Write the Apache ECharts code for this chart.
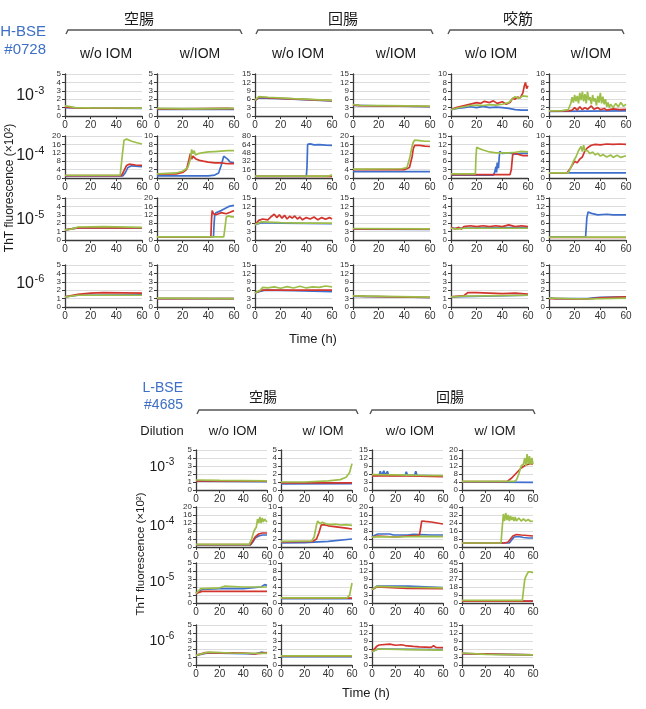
<!DOCTYPE html>
<html>
<head>
<meta charset="utf-8">
<script src="https://cdn.jsdelivr.net/npm/echarts@6.0.0/dist/echarts.min.js"></script>
<style>
html, body { margin: 0; padding: 0; background: #fff; }
#chart { width: 646px; height: 709px; }
</style>
</head>
<body>
<div id="chart"></div>
<script>
// labels
const dilutions = ['-3', '-4', '-5', '-6'];
const hbGroups = ['空腸', '回腸', '咬筋'];
const hbConditions = ['w/o IOM', 'w/IOM', 'w/o IOM', 'w/IOM', 'w/o IOM', 'w/IOM'];
const lbGroups = ['空腸', '回腸'];
const lbConditions = ['w/o IOM', 'w/ IOM', 'w/o IOM', 'w/ IOM'];
const timeRange = [0, 60, 20]; // min, max, interval

// y axis max per panel (ticks = max / 5)
const hbMax = [
    [5, 5, 15, 15, 10, 10],
    [20, 10, 80, 20, 15, 10],
    [5, 20, 15, 15, 5, 15],
    [5, 5, 15, 15, 5, 5]
];
const lbMax = [
    [5, 5, 15, 20],
    [20, 10, 20, 40],
    [5, 10, 15, 45],
    [5, 5, 15, 15]
];

// H-BSE #0728 : each panel = [blue, red, green], points = [time, value]
const hb_3_1 = [
    [[0, 1.0], [10, 0.95], [60, 0.9]],
    [[0, 1.05], [10, 0.95], [60, 0.92]],
    [[0, 1.2], [3, 1.15], [8, 1.0], [20, 0.97], [40, 0.95], [60, 0.93]]
];
const hb_3_2 = [
    [[0, 0.8], [60, 0.8]],
    [[0, 0.85], [20, 0.85], [40, 0.88], [55, 0.9], [60, 0.85]],
    [[0, 0.9], [30, 0.85], [60, 0.9]]
];
const hb_3_3 = [
    [[0, 5.5], [3, 6.5], [20, 6.2], [60, 5.4]],
    [[0, 5.6], [3, 6.7], [20, 6.3], [60, 5.5]],
    [[0, 5.7], [3, 6.9], [10, 6.7], [30, 6.2], [60, 5.6]]
];
const hb_3_4 = [
    [[0, 3.8], [60, 3.3]],
    [[0, 4.0], [5, 3.7], [60, 3.4]],
    [[0, 4.1], [5, 3.8], [60, 3.5]]
];
const hb_3_5 = [
    [[0, 1.5], [5, 1.8], [10, 2.0], [15, 2.2], [20, 2.0], [25, 2.3], [30, 2.0], [35, 2.1], [40, 2.0], [45, 1.8], [50, 1.5], [55, 1.4], [60, 1.4]],
    [[0, 1.5], [4, 2.0], [8, 2.3], [12, 2.6], [16, 2.9], [20, 3.2], [23, 3.0], [26, 3.5], [30, 3.2], [33, 3.6], [36, 3.0], [40, 3.4], [43, 2.8], [46, 3.2], [48, 4.2], [50, 4.0], [52, 4.5], [54, 4.3], [56, 5.5], [57, 7.0], [58, 8.0], [59, 6.5], [60, 7.2]],
    [[0, 1.5], [5, 1.9], [10, 2.2], [15, 2.5], [20, 2.6], [25, 2.5], [30, 2.7], [35, 2.6], [40, 2.8], [45, 3.2], [48, 4.2], [50, 4.6], [53, 4.2], [56, 4.8], [60, 4.6]]
];
const hb_3_6 = [
    [[0, 1.1], [60, 1.2]],
    [[0, 1.2], [15, 1.2], [18, 1.4], [20, 2.0], [22, 1.4], [24, 2.2], [26, 1.5], [28, 2.0], [30, 1.6], [33, 2.4], [35, 1.6], [38, 2.0], [40, 1.5], [43, 1.8], [45, 1.4], [50, 1.7], [55, 1.5], [60, 1.6]],
    [[0, 1.2], [10, 1.3], [15, 1.5], [17, 3], [18, 4.5], [19, 3.2], [20, 5], [21, 3.5], [22, 4.8], [23, 3.0], [24, 5.5], [25, 3.8], [26, 5.8], [27, 3.5], [28, 5.2], [29, 3.0], [30, 5.8], [31, 3.8], [32, 4.5], [33, 2.8], [34, 5], [35, 3.5], [36, 4.2], [37, 2.5], [38, 4.8], [39, 3.2], [40, 5.5], [41, 3.0], [42, 4.6], [43, 2.8], [44, 4], [45, 2.2], [46, 3.2], [47, 2.0], [48, 2.8], [50, 2.0], [52, 3.0], [54, 2.2], [56, 3.2], [58, 2.3], [60, 2.8]]
];
const hb_4_1 = [
    [[0, 1.0], [45, 1.0], [47, 2.5], [49, 5.0], [52, 5.8], [60, 5.4]],
    [[0, 1.1], [44, 1.1], [46, 3.5], [48, 6.0], [50, 6.6], [55, 6.2], [60, 6.0]],
    [[0, 1.3], [43, 1.4], [44.5, 10], [46, 18], [48, 18.5], [52, 17.5], [56, 16.8], [60, 16.2]]
];
const hb_4_2 = [
    [[0, 0.5], [40, 0.5], [45, 0.7], [48, 1.2], [50, 3.0], [52, 5.2], [53, 5.6], [55, 4.5], [57, 3.8], [60, 3.6]],
    [[0, 0.9], [15, 1.0], [20, 1.3], [23, 2.0], [25, 4.5], [26, 5.8], [27, 4.5], [28, 5.2], [30, 4.6], [33, 4.2], [36, 4.0], [40, 3.8], [45, 3.6], [50, 3.6], [55, 3.4], [60, 3.4]],
    [[0, 1.0], [15, 1.2], [20, 1.6], [24, 2.5], [26, 4.5], [27, 6.8], [28, 5.8], [29, 6.5], [30, 5.5], [32, 5.8], [35, 6.0], [40, 6.2], [45, 6.3], [50, 6.4], [55, 6.5], [60, 6.5]]
];
const hb_4_3 = [
    [[0, 3], [40, 3], [40.5, 20], [41, 64], [43, 65], [46, 63], [50, 63.5], [55, 62.5], [60, 62]],
    [[0, 3], [60, 3.2]],
    [[0, 3.5], [55, 3.5], [58, 4], [60, 6]]
];
const hb_4_4 = [
    [[0, 3], [60, 3]],
    [[0, 4], [40, 4], [44, 5], [46, 10], [47, 14], [48, 15.5], [52, 15.5], [56, 15.2], [60, 15]],
    [[0, 4.2], [38, 4.4], [42, 5], [44, 9], [46, 15], [47, 17], [48, 18], [52, 17.8], [56, 17.5], [60, 17.5]]
];
const hb_4_5 = [
    [[0, 1.0], [33, 1.0], [34, 2.0], [35, 4.0], [35.5, 2], [36, 5.5], [37, 3.5], [37.5, 7], [38, 9.5], [40, 8.8], [45, 9.0], [50, 8.5], [55, 8.8], [60, 8.8]],
    [[0, 1.2], [46, 1.2], [47, 3], [48, 8], [49, 9], [52, 8.5], [56, 8.0], [60, 8.0]],
    [[0, 1.5], [19, 1.5], [19.5, 8], [20, 11], [22, 10.5], [25, 10], [30, 9.3], [35, 9], [40, 9.0], [45, 9.0], [50, 9.2], [55, 9.5], [60, 9.3]]
];
const hb_4_6 = [
    [[0, 1.2], [60, 1.2]],
    [[0, 1.2], [14, 1.2], [16, 2], [18, 3], [20, 4], [22, 3.6], [24, 4.5], [26, 5], [28, 6.5], [30, 7.2], [33, 7.8], [36, 8.0], [40, 7.9], [45, 8.1], [50, 8.0], [55, 8.1], [60, 8.0]],
    [[0, 1.2], [15, 1.2], [17, 2.5], [19, 4], [21, 5], [23, 6.5], [25, 7.5], [26, 6.3], [27, 7.8], [28, 6.5], [30, 6.5], [32, 5.8], [34, 6.2], [36, 5.5], [38, 5.9], [40, 5.2], [42, 5.6], [45, 5.0], [48, 5.5], [50, 4.9], [53, 5.4], [56, 4.9], [60, 5.3]]
];
const hb_5_1 = [
    [[0, 1.2], [10, 1.45], [60, 1.45]],
    [[0, 1.2], [10, 1.45], [60, 1.45]],
    [[0, 1.2], [5, 1.3], [8, 1.45], [10, 1.55], [30, 1.6], [60, 1.5]]
];
const hb_5_2 = [
    [[0, 1.5], [44, 1.5], [44.5, 8], [45, 12], [46, 13], [50, 14], [53, 15], [56, 16], [60, 16.5]],
    [[0, 1.5], [42, 1.5], [42.5, 10], [43, 14], [44, 12.5], [46, 12], [50, 13], [54, 12.5], [56, 13], [60, 14]],
    [[0, 1.5], [52, 1.5], [53, 6], [54, 11], [56, 11.5], [58, 11], [60, 11]]
];
const hb_5_3 = [
    [[0, 5.5], [5, 6.2], [20, 6.0], [60, 5.8]],
    [[0, 5.5], [3, 7], [6, 7.5], [10, 7.2], [13, 8.5], [15, 9.2], [17, 8.0], [19, 9.0], [21, 7.8], [23, 8.8], [25, 7.5], [27, 8.5], [29, 7.8], [31, 8.6], [33, 7.5], [35, 8.2], [37, 7.2], [40, 8.0], [43, 7.5], [46, 8.2], [49, 7.2], [52, 8.0], [55, 7.4], [58, 8.0], [60, 7.5]],
    [[0, 5.5], [5, 6.5], [20, 6.2], [40, 6.0], [60, 6.0]]
];
const hb_5_4 = [
    [[0, 3.9], [60, 3.8]],
    [[0, 4.0], [60, 3.9]],
    [[0, 4.1], [60, 4.0]]
];
const hb_5_5 = [
    [[0, 1.4], [60, 1.5]],
    [[0, 1.5], [3, 1.3], [6, 1.5], [8, 1.3], [10, 1.6], [15, 1.7], [20, 1.6], [25, 1.7], [30, 1.6], [35, 1.7], [40, 1.6], [45, 1.8], [50, 1.6], [55, 1.7], [60, 1.6]],
    [[0, 1.4], [5, 1.3], [10, 1.4], [60, 1.4]]
];
const hb_5_6 = [
    [[0, 1], [28.5, 1], [29.5, 8], [30.5, 10], [33, 9.5], [38, 9], [45, 9.2], [50, 9.0], [60, 9.0]],
    [[0, 0.9], [60, 0.9]],
    [[0, 1.0], [60, 1.0]]
];
const hb_6_1 = [
    [[0, 1.2], [10, 1.4], [60, 1.45]],
    [[0, 1.2], [5, 1.35], [10, 1.5], [20, 1.65], [30, 1.7], [60, 1.65]],
    [[0, 1.2], [10, 1.4], [60, 1.4]]
];
const hb_6_2 = [
    [[0, 1.0], [60, 1.0]],
    [[0, 1.0], [60, 1.0]],
    [[0, 1.05], [60, 1.0]]
];
const hb_6_3 = [
    [[0, 5], [3, 5.5], [8, 6], [30, 5.8], [60, 5.5]],
    [[0, 5], [5, 6], [60, 6]],
    [[0, 5], [4, 6], [6, 7], [10, 6.8], [15, 7.2], [20, 6.7], [25, 7.3], [30, 6.8], [35, 7.4], [40, 6.8], [45, 7.2], [50, 7.0], [55, 7.5], [60, 7.2]]
];
const hb_6_4 = [
    [[0, 3.8], [60, 3.4]],
    [[0, 4.0], [10, 3.8], [60, 3.4]],
    [[0, 4.0], [60, 3.5]]
];
const hb_6_5 = [
    [[0, 1.2], [60, 1.4]],
    [[0, 1.2], [10, 1.35], [13, 1.7], [20, 1.7], [30, 1.65], [40, 1.6], [50, 1.65], [60, 1.55]],
    [[0, 1.2], [10, 1.3], [60, 1.4]]
];
const hb_6_6 = [
    [[0, 1.1], [5, 1.0], [30, 1.0], [35, 1.1], [40, 1.15], [60, 1.2]],
    [[0, 1.0], [30, 0.95], [40, 1.1], [60, 1.2]],
    [[0, 1.05], [30, 0.95], [60, 1.05]]
];

// L-BSE #4685
const lb_3_1 = [
    [[0, 1.1], [60, 1.05]],
    [[0, 1.15], [60, 1.1]],
    [[0, 1.25], [20, 1.2], [60, 1.15]]
];
const lb_3_2 = [
    [[0, 0.75], [60, 0.8]],
    [[0, 0.9], [60, 0.9]],
    [[0, 1.0], [20, 1.0], [40, 1.15], [50, 1.3], [55, 1.6], [58, 2.2], [60, 3.3]]
];
const lb_3_3 = [
    [[0, 5.5], [6, 5.5], [7, 7], [8, 5.5], [10, 7.2], [11, 5.5], [13, 7], [14, 5.5], [28, 5.5], [29, 6.8], [30, 5.5], [36, 5.5], [37, 7], [38, 5.5], [60, 5.2]],
    [[0, 5.3], [30, 5.3], [60, 5.0]],
    [[0, 5.8], [20, 5.7], [40, 5.5], [60, 5.4]]
];
const lb_3_4 = [
    [[0, 4], [60, 3.8]],
    [[0, 4.2], [38, 4.2], [42, 6], [46, 8.5], [50, 11], [54, 12.5], [57, 13], [60, 13]],
    [[0, 4.3], [44, 4.3], [46, 5], [48, 8], [50, 12], [52, 13], [53, 16], [54, 12], [55, 18], [56, 13], [57, 17], [58, 12.5], [59, 16], [60, 13]]
];
const lb_4_1 = [
    [[0, 1.0], [46, 1.0], [48, 2.5], [50, 4.5], [53, 5.5], [56, 6.0], [60, 6.0]],
    [[0, 1.2], [46, 1.2], [48, 3], [50, 5], [53, 6.5], [56, 7], [60, 7]],
    [[0, 1.3], [45, 1.3], [47, 4], [49, 8], [51, 10], [52, 14], [53, 12], [54, 15], [55, 12], [56, 14.5], [57, 12.5], [58, 14], [60, 12.5]]
];
const lb_4_2 = [
    [[0, 1.0], [20, 1.1], [40, 1.4], [60, 2.0]],
    [[0, 1.3], [27, 1.4], [30, 2], [32, 3.5], [34, 5.5], [36, 5.6], [40, 5.3], [45, 5.1], [50, 4.9], [55, 4.7], [60, 4.5]],
    [[0, 1.4], [26, 1.5], [28, 2.5], [30, 5.5], [31, 6.5], [33, 5.8], [35, 6.2], [38, 5.8], [42, 5.6], [46, 5.7], [50, 5.5], [55, 5.6], [60, 5.4]]
];
const lb_4_3 = [
    [[0, 5], [3, 6], [5, 6.5], [15, 6.5], [18, 6], [30, 6], [35, 6.3], [40, 6.2], [50, 6], [60, 6]],
    [[0, 5], [5, 5.5], [20, 5], [30, 5.5], [40, 5.8], [41, 9], [42, 13], [45, 12.8], [50, 12.5], [55, 12], [60, 11.5]],
    [[0, 5], [5, 5.2], [20, 5], [40, 5.3], [60, 5.2]]
];
const lb_4_4 = [
    [[0, 4], [40, 4], [42, 7], [44, 10], [48, 10.5], [52, 9.5], [56, 9], [60, 9]],
    [[0, 4], [36, 4], [39, 5], [41, 8], [43, 11], [46, 12.5], [50, 12], [55, 11.5], [60, 11]],
    [[0, 4], [33, 4], [34, 20], [35, 33], [36, 26], [37, 34], [38, 27], [39, 32], [40, 26], [41, 31], [42, 27], [43, 30], [44, 26], [45, 30], [46, 26], [48, 29], [50, 26], [52, 28], [54, 26], [56, 27.5], [58, 25.5], [60, 26]]
];
const lb_5_1 = [
    [[0, 1.2], [5, 1.7], [20, 1.8], [40, 1.8], [55, 2.0], [58, 2.3], [60, 2.2]],
    [[0, 1.2], [5, 1.45], [30, 1.45], [60, 1.45]],
    [[0, 1.2], [4, 1.8], [20, 1.9], [24, 2.1], [40, 2.0], [60, 2.0]]
];
const lb_5_2 = [
    [[0, 1.1], [60, 1.1]],
    [[0, 1.2], [60, 1.2]],
    [[0, 1.3], [56, 1.3], [58, 2], [59, 3.5], [60, 5]]
];
const lb_5_3 = [
    [[0, 5], [4, 6.3], [30, 6.3], [60, 5.8]],
    [[0, 5], [4, 6], [30, 5.5], [60, 5.4]],
    [[0, 5], [4, 6.2], [30, 5.9], [60, 5.7]]
];
const lb_5_4 = [
    [[0, 2], [60, 2]],
    [[0, 2.2], [60, 2.0]],
    [[0, 3.0], [51, 3.0], [52, 15], [53, 26], [54, 30], [55, 31], [56, 35], [57, 33], [58, 35], [60, 34]]
];
const lb_6_1 = [
    [[0, 1.2], [10, 1.5], [50, 1.4], [55, 1.6], [60, 1.5]],
    [[0, 1.2], [8, 1.55], [40, 1.5], [50, 1.4], [60, 1.55]],
    [[0, 1.2], [5, 1.4], [10, 1.6], [30, 1.5], [60, 1.45]]
];
const lb_6_2 = [
    [[0, 1.05], [60, 1.05]],
    [[0, 1.1], [60, 1.1]],
    [[0, 1.15], [60, 1.15]]
];
const lb_6_3 = [
    [[0, 5], [5, 6], [60, 5.8]],
    [[0, 5], [4, 7], [6, 7.5], [15, 7.8], [20, 7.4], [25, 7.6], [26, 7], [28, 7.3], [35, 7], [40, 6.8], [50, 6.6], [52, 7.2], [54, 6.6], [60, 6.5]],
    [[0, 5], [5, 6], [30, 5.8], [60, 5.6]]
];
const lb_6_4 = [
    [[0, 4.3], [60, 3.8]],
    [[0, 4.3], [60, 3.8]],
    [[0, 4.5], [20, 4], [60, 3.8]]
];

const hbPanels = [
    [hb_3_1, hb_3_2, hb_3_3, hb_3_4, hb_3_5, hb_3_6],
    [hb_4_1, hb_4_2, hb_4_3, hb_4_4, hb_4_5, hb_4_6],
    [hb_5_1, hb_5_2, hb_5_3, hb_5_4, hb_5_5, hb_5_6],
    [hb_6_1, hb_6_2, hb_6_3, hb_6_4, hb_6_5, hb_6_6]
];
const lbPanels = [
    [lb_3_1, lb_3_2, lb_3_3, lb_3_4],
    [lb_4_1, lb_4_2, lb_4_3, lb_4_4],
    [lb_5_1, lb_5_2, lb_5_3, lb_5_4],
    [lb_6_1, lb_6_2, lb_6_3, lb_6_4]
];

// 样式
const lineColors = ['#3f6fcc', '#d2352d', '#9dbf4a'];
const axisColor = '#3a3a3a';
const latin = '"Liberation Sans", Arial, sans-serif';
const cjk = '"Noto Sans CJK JP", sans-serif';
const blueText = '#3d6fc6';

const grid = [], xAxis = [], yAxis = [], series = [], graphic = [];

function addPanel(left, top, w, h, max, lines) {
    const i = grid.length;
    grid.push({ left: left, top: top, width: w, height: h });
    xAxis.push({
        gridIndex: i, type: 'value',
        min: timeRange[0], max: timeRange[1], interval: timeRange[2],
        axisLine: { show: true, onZero: false, lineStyle: { color: axisColor, width: 1.3 } },
        axisTick: { show: true, length: 3, lineStyle: { color: axisColor } },
        axisLabel: { fontSize: 10, color: '#333', margin: 4, fontFamily: latin },
        splitLine: { show: false }
    });
    yAxis.push({
        gridIndex: i, type: 'value',
        min: 0, max: max, interval: max / 5,
        axisLine: { show: true, lineStyle: { color: axisColor, width: 1.3 } },
        axisTick: { show: true, length: 3, lineStyle: { color: axisColor } },
        axisLabel: { fontSize: 8, color: '#333', margin: 4, fontFamily: latin, lineHeight: 8 },
        splitLine: { show: true, lineStyle: { color: '#dcdcdc', width: 1 } }
    });
    lines.forEach((pts, k) => {
        series.push({
            type: 'line', xAxisIndex: i, yAxisIndex: i,
            data: pts, showSymbol: false, symbol: 'none', silent: true,
            lineStyle: { width: 1.7, color: lineColors[k] },
            itemStyle: { color: lineColors[k] },
            z: 2 + k
        });
    });
}

function text(x, y, str, font, fill, extra) {
    graphic.push(Object.assign({
        type: 'text', x: x, y: y, silent: true,
        style: { text: str, x: 0, y: 0, font: font, fill: fill || '#1a1a1a', align: 'center', verticalAlign: 'middle' }
    }, extra || {}));
}

function rowLabel(x, y, sup, size) {
    text(x, y + 0.5, '10', size + 'px ' + latin, '#1a1a1a', {});
    graphic[graphic.length - 1].style.align = 'right';
    text(x + 0.5, y - 4.5, sup, Math.round(size * 0.68) + 'px ' + latin, '#1a1a1a', {});
    graphic[graphic.length - 1].style.align = 'left';
}

function bracket(x1, x2, y) {
    graphic.push({
        type: 'polyline', silent: true,
        shape: { points: [[x1, y + 4], [x1 + 2, y], [x2 - 2, y], [x2, y + 4]] },
        style: { stroke: '#555', lineWidth: 1.4, fill: null }
    });
}

// ---- H-BSE block ----
const hbLeft = [65, 157, 255, 353, 451, 549];
const hbTop = [74, 136, 198, 265];
const hbRowMid = [95, 155, 219, 283];
const hbColMid = [106, 200, 298, 396, 491, 591];
for (let r = 0; r < 4; r++) {
    for (let c = 0; c < 6; c++) {
        addPanel(hbLeft[c], hbTop[r], 77, 42, hbMax[r][c], hbPanels[r][c]);
    }
    rowLabel(34, hbRowMid[r], dilutions[r], 16);
}
hbConditions.forEach((t, c) => text(hbColMid[c], 54, t, '14px ' + latin));
const hbGroupX = [[66, 242], [256, 433], [448, 624]];
const hbGroupMid = [139, 343, 518];
hbGroups.forEach((t, g) => {
    bracket(hbGroupX[g][0], hbGroupX[g][1], 30);
    text(hbGroupMid[g], 18, t, '15px ' + cjk);
});
text(46, 32, 'H-BSE', '15px ' + latin, blueText);
graphic[graphic.length - 1].style.align = 'right';
text(46, 50, '#0728', '15px ' + latin, blueText);
graphic[graphic.length - 1].style.align = 'right';
text(10, 188, 'ThT fluorescence (×10²)', '12px ' + latin, '#1a1a1a', { rotation: Math.PI / 2 });
text(313, 339, 'Time (h)', '13px ' + latin);

// ---- L-BSE block ----
const lbLeft = [196, 281, 372, 462];
const lbTop = [450, 507, 563, 625];
const lbRowMid = [467, 526, 582, 641];
const lbColMid = [233, 323, 410, 495];
for (let r = 0; r < 4; r++) {
    for (let c = 0; c < 4; c++) {
        addPanel(lbLeft[c], lbTop[r], 71, 40, lbMax[r][c], lbPanels[r][c]);
    }
    rowLabel(165, lbRowMid[r], dilutions[r], 14);
}
lbConditions.forEach((t, c) => text(lbColMid[c], 431, t, '13px ' + latin));
text(162, 431, 'Dilution', '13px ' + latin);
const lbGroupX = [[197, 358], [370, 535]];
const lbGroupMid = [263, 450];
lbGroups.forEach((t, g) => {
    bracket(lbGroupX[g][0], lbGroupX[g][1], 410);
    text(lbGroupMid[g], 397, t, '14px ' + cjk);
});
text(183, 388, 'L-BSE', '14px ' + latin, blueText);
graphic[graphic.length - 1].style.align = 'right';
text(183, 405, '#4685', '14px ' + latin, blueText);
graphic[graphic.length - 1].style.align = 'right';
text(141, 554, 'ThT fluorescence (×10²)', '11.5px ' + latin, '#1a1a1a', { rotation: Math.PI / 2 });
text(366, 693, 'Time (h)', '13px ' + latin);

const chart = echarts.init(document.getElementById('chart'));
chart.setOption({
    animation: false,
    backgroundColor: '#fff',
    grid: grid,
    xAxis: xAxis,
    yAxis: yAxis,
    series: series,
    graphic: graphic
});
</script>
</body>
</html>
